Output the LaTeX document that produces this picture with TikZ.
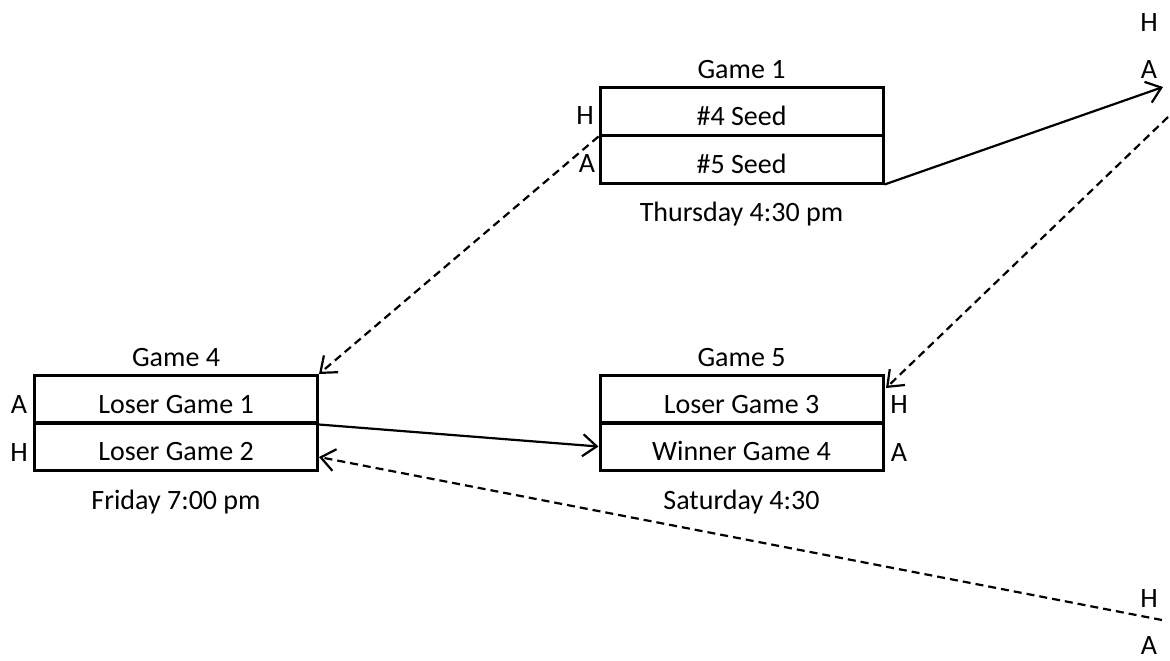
\documentclass[tikz,border=0pt]{standalone}
\usepackage{fontspec}
\setmainfont{Carlito}
\usetikzlibrary{arrows.meta}
\begin{document}
\begin{tikzpicture}[x=0.5pt,y=-0.5pt,
  box/.style={draw, line width=1.5pt, minimum width=141.5pt, minimum height=24pt, inner sep=0pt, text height=14pt, text depth=0pt, font=\fontsize{14}{16}\selectfont},
  lbl/.style={font=\fontsize{14}{16}\selectfont, inner sep=0pt},
  conn/.style={line width=1.1pt, -{Straight Barb[length=7pt,width=11pt]}},
  dconn/.style={conn, dash pattern=on 4pt off 2.5pt}]
\useasboundingbox (0,0) rectangle (1170,660);
% Game 1
\node[box] (g1h) at (741.5,111) {\#4 Seed};
\node[box] (g1a) at (741.5,159) {\#5 Seed};
\node[lbl] (g1t) at (741.5,70) {Game 1};
\node[lbl] (g1d) at (741.5,214) {Thursday 4:30 pm};
\node[lbl] (g1hl) at (585,116) {H};
\node[lbl] (g1al) at (587,164) {A};
% Game 4
\node[box] (g4a) at (176,399) {Loser Game 1};
\node[box] (g4h) at (176,446.5) {Loser Game 2};
\node[lbl] (g4t) at (176,358) {Game 4};
\node[lbl] (g4d) at (176,502) {Friday 7:00 pm};
\node[lbl] (g4al) at (19,405) {A};
\node[lbl] (g4hl) at (19,453) {H};
% Game 5
\node[box] (g5h) at (741.5,399) {Loser Game 3};
\node[box] (g5a) at (741.5,446.5) {Winner Game 4};
\node[lbl] (g5t) at (741.5,358) {Game 5};
\node[lbl] (g5d) at (741.5,502) {Saturday 4:30};
\node[lbl] (g5hl) at (899,405) {H};
\node[lbl] (g5al) at (899,453) {A};
% right side labels
\node[lbl] (trh) at (1149,23) {H};
\node[lbl] (tra) at (1149,70) {A};
\node[lbl] (brh) at (1149,598) {H};
\node[lbl] (bra) at (1149,645) {A};
% free ends
\coordinate (tr) at (1163,87);
\coordinate (tr2) at (1168,117);
\coordinate (g5in) at (886,388);
\coordinate (g4in1) at (319,374);
\coordinate (br) at (1162,620);
\coordinate (g4in) at (319,457);
% connectors
\draw[conn] (g1a.south east) -- (tr);
\draw[dconn] (tr2) -- (g5in);
\draw[dconn] (g1h.south west) -- (g4in1);
\draw[conn] (g4a.south east) -- (g5a.west);
\draw[dconn] (br) -- (g4in);
\end{tikzpicture}
\end{document}
